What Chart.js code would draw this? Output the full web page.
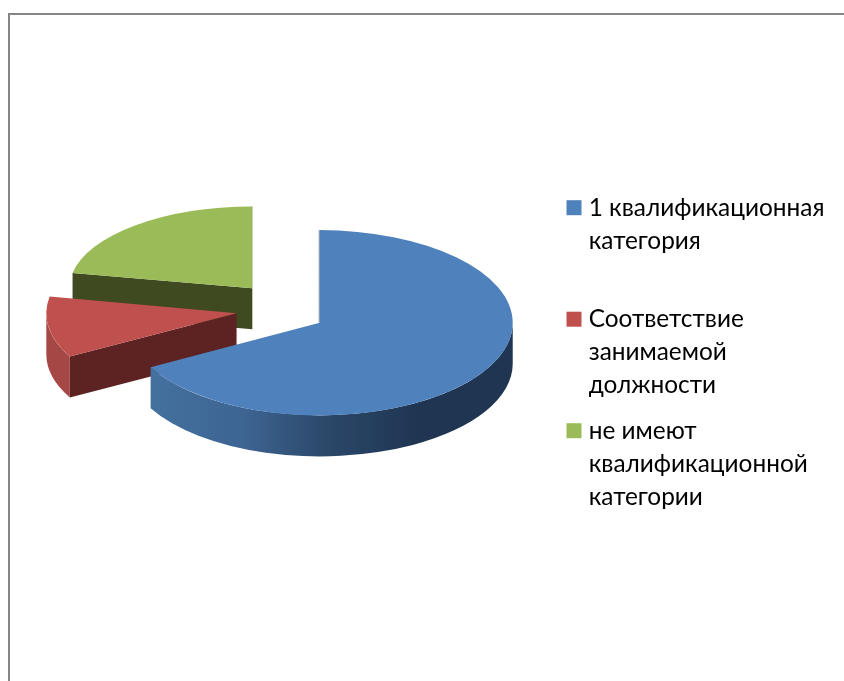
<!DOCTYPE html>
<html lang="ru">
<head>
<meta charset="utf-8">
<style>
  html, body { margin: 0; padding: 0; background: #fff; }
  #wrap { position: relative; width: 844px; height: 681px; overflow: hidden; }
  #frame { position: absolute; left: 8px; top: 13px; width: 840px; height: 700px; border: solid #868686; border-width: 2px 0 0 2px; box-sizing: border-box; }
  canvas { position: absolute; left: 0; top: 0; }
</style>
</head>
<body>
<div id="wrap">
  <div id="frame"></div>
  <canvas id="pie" width="844" height="681"></canvas>
</div>
<script src="https://cdn.jsdelivr.net/npm/chart.js@4"></script>
<script>
const categories = [
  ['1 квалификационная', 'категория', ''],
  ['Соответствие', 'занимаемой', 'должности'],
  ['не имеют', 'квалификационной', 'категории']
];
const shares = [67, 11, 22];
const topColors = ['#4f81bd', '#c0504d', '#9bbb59'];
const faceColors = ['#1f3552', '#5c2322', '#3f4a20'];

const RADIUS = 193;
const EXPLODE = 45;      // how far each slice is pulled out of the pie
const TILT = 0.48;       // flattening of the top faces
const EXPLODE_TILT = 0.6;
const DEPTH = 41;        // wall height
const PERSPECTIVE_X = 0.0015, PERSPECTIVE_Y = 0.0034;
const LEGEND_X = 559, LEGEND_Y = 183;

function sliceShape(arc) {
  const mid = (arc.startAngle + arc.endAngle) / 2;
  const ax = arc.x + Math.cos(mid) * EXPLODE;
  const ay = arc.y + Math.sin(mid) * EXPLODE * EXPLODE_TILT;
  const front = arc.y + 0.51 * EXPLODE * EXPLODE_TILT;
  return {
    ax, ay,
    sx: 1 + PERSPECTIVE_X * (ay - front),
    sy: TILT * (1 + PERSPECTIVE_Y * (ay - front)),
    r: arc.outerRadius
  };
}

function wallFill(ctx, i) {
  if (i === 0) {
    const g = ctx.createLinearGradient(150, 0, 420, 0);
    g.addColorStop(0, '#44719f');
    g.addColorStop(0.35, '#3d6492');
    g.addColorStop(0.65, '#2b4869');
    g.addColorStop(1, '#1f3552');
    return g;
  }
  return i === 1 ? '#a54744' : '#7a9446';
}

// Walls go first, back to front, the flattened top faces over them
const pie3d = {
  id: 'pie3d',
  beforeDatasetsDraw(chart) {
    const ctx = chart.ctx;
    const arcs = chart.getDatasetMeta(0).data;
    const order = [2, 1, 0];

    order.forEach(i => {
      const arc = arcs[i];
      const s = sliceShape(arc);
      const rx = s.r * s.sx, ry = s.r * s.sy;
      const t0 = arc.startAngle, t1 = arc.endAngle;
      const px = t => s.ax + rx * Math.cos(t);
      const py = t => s.ay + ry * Math.sin(t);

      ctx.save();
      ctx.fillStyle = faceColors[i];
      [[t0, Math.cos(t0) < -0.01], [t1, Math.cos(t1) > 0.01]].forEach(([t, visible]) => {
        if (visible) {
          ctx.beginPath();
          ctx.moveTo(s.ax, s.ay);
          ctx.lineTo(px(t), py(t));
          ctx.lineTo(px(t), py(t) + DEPTH);
          ctx.lineTo(s.ax, s.ay + DEPTH);
          ctx.closePath();
          ctx.fill();
        } else if (Math.abs(Math.cos(t)) <= 0.01) {
          // edge-on cut, only a hairline of it shows
          ctx.strokeStyle = faceColors[i];
          ctx.globalAlpha = 0.6;
          ctx.lineWidth = 1;
          ctx.beginPath();
          ctx.moveTo(s.ax - 0.5, s.ay);
          ctx.lineTo(px(t) - 0.5, py(t));
          ctx.stroke();
          ctx.globalAlpha = 1;
        }
      });

      // the part of the rim that faces the viewer
      ctx.fillStyle = wallFill(ctx, i);
      [0, 2 * Math.PI].forEach(turn => {
        const lo = Math.max(t0, turn), hi = Math.min(t1, turn + Math.PI);
        if (lo < hi) {
          ctx.beginPath();
          ctx.ellipse(s.ax, s.ay, rx, ry, 0, lo, hi);
          ctx.ellipse(s.ax, s.ay + DEPTH, rx, ry, 0, hi, lo, true);
          ctx.closePath();
          ctx.fill();
        }
      });
      ctx.restore();
    });

    arcs.forEach(arc => {
      const s = sliceShape(arc);
      ctx.save();
      ctx.translate(s.ax, s.ay);
      ctx.scale(s.sx, s.sy);
      ctx.translate(-arc.x, -arc.y);
      arc.draw(ctx);
      ctx.restore();
    });
    return false;
  },
  afterLayout(chart) {
    const legend = chart.legend;
    legend.left = LEGEND_X;
    legend.top = LEGEND_Y;
    legend.right = 844;
    legend.bottom = 681;
  }
};

new Chart(document.getElementById('pie'), {
  type: 'pie',
  data: {
    labels: categories,
    datasets: [{
      data: shares,
      backgroundColor: topColors,
      borderWidth: 0
    }]
  },
  plugins: [pie3d],
  options: {
    responsive: false,
    animation: false,
    radius: RADIUS,
    layout: { padding: { right: 282, bottom: 63 } },
    plugins: {
      tooltip: { enabled: false },
      legend: {
        position: 'chartArea',
        align: 'start',
        labels: {
          boxWidth: 5,
          boxHeight: 5,
          padding: 12.5,
          color: '#000',
          font: { family: 'Lato, "Noto Sans", sans-serif', size: 24.4, lineHeight: 33 / 24.4 },
          // thick same-colour outline gives the 15px swatch with the text close to it
          generateLabels(chart) {
            return Chart.overrides.pie.plugins.legend.labels.generateLabels(chart).map(item => {
              item.strokeStyle = item.fillStyle;
              item.lineWidth = 10;
              return item;
            });
          }
        }
      }
    }
  }
});
</script>
</body>
</html>
